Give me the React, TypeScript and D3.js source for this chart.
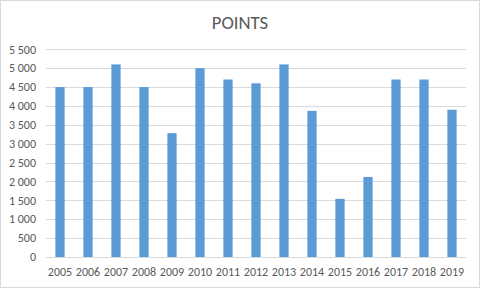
import React from "react";
import * as d3 from "d3";

const years = ["2005","2006","2007","2008","2009","2010","2011","2012","2013","2014","2015","2016","2017","2018","2019"];
const points = [4500, 4500, 5100, 4500, 3280, 5000, 4700, 4600, 5100, 3870, 1540, 2120, 4700, 4700, 3900];
const yTicks = [0, 500, 1000, 1500, 2000, 2500, 3000, 3500, 4000, 4500, 5000, 5500];

const W = 480, H = 288;
const margin = { left: 46, right: 14, top: 49.3, bottom: 31 };

export default function App() {
  const x = d3.scaleBand<string>().domain(years).range([margin.left, W - margin.right]).paddingInner(0.67).paddingOuter(0.335);
  const y = d3.scaleLinear().domain([0, 5500]).range([H - margin.bottom, margin.top]);
  const fmt = (v: number) => d3.format(",")(v).replace(/,/g, " ");
  const font = "Carlito, 'Liberation Sans', Arial, sans-serif";
  return (
    <div style={{ position: "fixed", left: 0, top: 0 }}>
      <svg width={W} height={H} style={{ display: "block", background: "#fff" }}>
        <rect x={0.5} y={0.5} width={W - 1} height={H - 1} fill="#fff" stroke="#d9d9d9" />
        <text x={W / 2} y={29} textAnchor="middle" fontFamily={font} fontSize={18.67} fill="#595959">POINTS</text>
        {yTicks.map(t => (
          <g key={t}>
            <line x1={margin.left} x2={W - margin.right} y1={Math.round(y(t)) + 0.5} y2={Math.round(y(t)) + 0.5} stroke="#d9d9d9" />
            <text x={36} y={y(t)} dy="0.35em" textAnchor="end" fontFamily={font} fontSize={12} fill="#595959">{fmt(t)}</text>
          </g>
        ))}
        {years.map((yr, i) => (
          <rect key={yr} x={x(yr)} y={y(points[i])} width={x.bandwidth()} height={y(0) - y(points[i])} fill="#5b9bd5" />
        ))}
        {years.map(yr => (
          <text key={yr} x={(x(yr) as number) + x.bandwidth() / 2} y={272} dy="0.35em" textAnchor="middle" fontFamily={font} fontSize={12} fill="#595959">{yr}</text>
        ))}
      </svg>
    </div>
  );
}
